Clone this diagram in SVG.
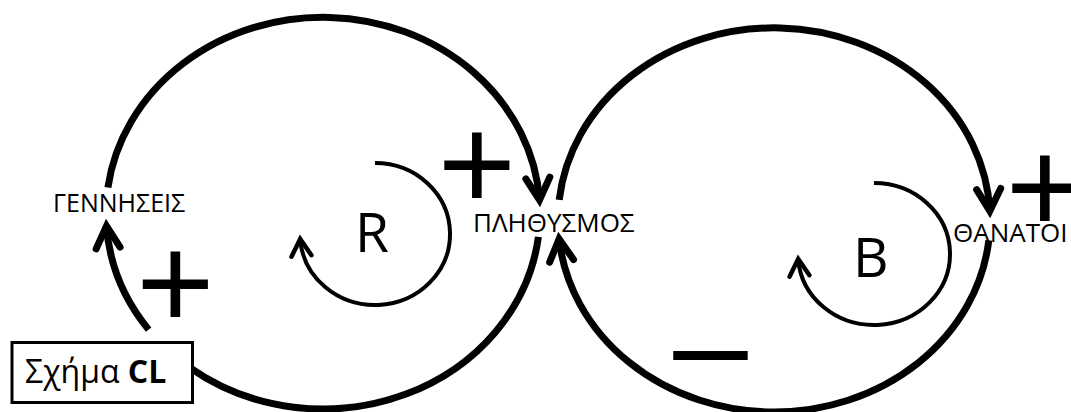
<svg xmlns="http://www.w3.org/2000/svg" width="1071" height="412" viewBox="0 0 1071 412">
  <style>
    .conn { fill: none; stroke: #000; stroke-width: 7; stroke-linecap: butt; }
    .loop { fill: none; stroke: #000; stroke-width: 4; }
    .node { font-family: "Open Sans", "Noto Sans", sans-serif; fill: #000; }
    .sign { font-family: "Liberation Sans", Arial, sans-serif; font-size: 134px; fill: #000; text-anchor: middle; }
    .letter { font-family: "Open Sans", "Noto Sans", sans-serif; font-size: 55px; fill: #000; }
  </style>
  <defs>
    <marker id="ah" markerUnits="userSpaceOnUse" orient="auto" overflow="visible" markerWidth="1" markerHeight="1" refX="0" refY="0">
      <path d="M-22,-12 L0,0 L-22,12" fill="none" stroke="#000" stroke-width="7" stroke-linecap="round" stroke-linejoin="miter"/>
    </marker>
    <marker id="ahs" markerUnits="userSpaceOnUse" orient="auto" overflow="visible" markerWidth="1" markerHeight="1" refX="0" refY="0">
      <path d="M-17,-10 L0,0 L-17,10" fill="none" stroke="#000" stroke-width="4.5" stroke-linecap="round" stroke-linejoin="miter"/>
    </marker>
  </defs>
  <rect width="1071" height="412" fill="#fff"/>

  <g id="connectors">
    <path class="conn" d="M107.9,187.4 A217,196 0 0 1 539.5,200" marker-end="url(#ah)"/>
    <path class="conn" d="M538.4,236.9 A217,196 0 0 1 189.4,367.4"/>
    <path class="conn" d="M148.6,329.6 A217,196 0 0 1 106.5,226" marker-end="url(#ah)"/>
    <path class="conn" d="M559.2,199.9 A216,192 0 0 1 989.8,211" marker-end="url(#ah)"/>
    <path class="conn" d="M988.8,240.4 A216,192 0 0 1 559.1,239" marker-end="url(#ah)"/>
    <text class="sign" x="175.5" y="329">+</text>
    <text class="sign" x="477" y="210">+</text>
    <text class="sign" x="1045" y="233">+</text>
    <text class="sign" x="710.5" y="389">–</text>
  </g>

  <g id="loop-R">
    <path class="loop" d="M375,163 A75,71 0 1 1 300.2,239" marker-end="url(#ahs)"/>
    <text class="letter" x="355" y="252">R</text>
  </g>
  <g id="loop-B">
    <path class="loop" d="M874,183 A76,71 0 1 1 798.2,259" marker-end="url(#ahs)"/>
    <text class="letter" x="853" y="277">B</text>
  </g>

  <g id="node-gennhseis">
    <text class="node" x="53" y="212" font-size="25">ΓΕΝΝΗΣΕΙΣ</text>
  </g>
  <g id="node-plhthysmos">
    <text class="node" x="473" y="232" font-size="26">ΠΛΗΘΥΣΜΟΣ</text>
  </g>
  <g id="node-thanatoi">
    <text class="node" x="953" y="242" font-size="26">ΘΑΝΑΤΟΙ</text>
  </g>

  <g id="caption">
    <rect x="12" y="342.5" width="180.5" height="60" fill="#fff" stroke="#000" stroke-width="3"/>
    <text class="node" x="25" y="383" font-size="32">Σχήμα <tspan font-weight="bold">CL</tspan></text>
  </g>
</svg>
